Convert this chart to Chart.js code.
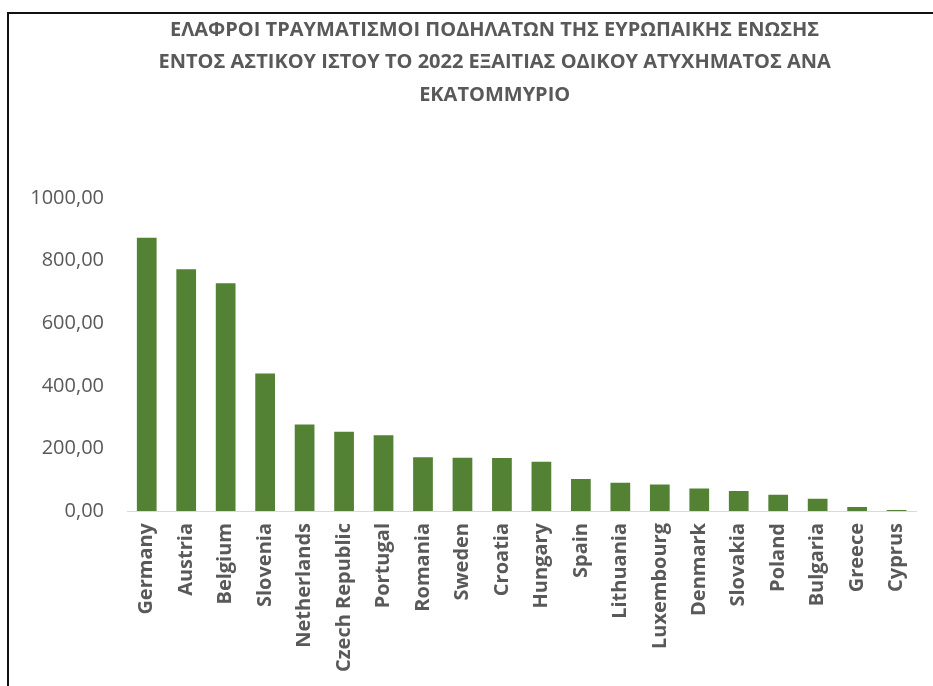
<!DOCTYPE html>
<html>
<head>
<meta charset="utf-8">
<script src="https://cdn.jsdelivr.net/npm/chart.js@4/dist/chart.umd.min.js"></script>
<style>
  html, body { margin: 0; padding: 0; background: #fff; overflow: hidden; }
  #wrap { position: relative; width: 933px; height: 686px; }
  #frame { position: absolute; left: 7px; top: 12px; width: 2000px; height: 2000px;
           border-left: 2px solid #111; border-top: 2px solid #111; pointer-events: none; }
  canvas { position: absolute; left: 0; top: 0; }
</style>
</head>
<body>
<div id="wrap">
  <canvas id="chart" width="933" height="686"></canvas>
  <div id="frame"></div>
</div>
<script>
// Countries, ordered by light cyclist injuries per million (urban roads, 2022)
const countries = [
  'Germany', 'Austria', 'Belgium', 'Slovenia', 'Netherlands', 'Czech Republic',
  'Portugal', 'Romania', 'Sweden', 'Croatia', 'Hungary', 'Spain', 'Lithuania',
  'Luxembourg', 'Denmark', 'Slovakia', 'Poland', 'Bulgaria', 'Greece', 'Cyprus'
];
const injuriesPerMillion = [
  873, 772, 728, 439, 276, 253,
  242, 172, 170, 169, 157, 102, 90,
  85, 72, 64, 52, 39, 13, 3
];
const titleLines = [
  'ΕΛΑΦΡΟΙ ΤΡΑΥΜΑΤΙΣΜΟΙ ΠΟΔΗΛΑΤΩΝ ΤΗΣ ΕΥΡΩΠΑΙΚΗΣ ΕΝΩΣΗΣ',
  'ΕΝΤΟΣ ΑΣΤΙΚΟΥ ΙΣΤΟΥ ΤΟ 2022 ΕΞΑΙΤΙΑΣ ΟΔΙΚΟΥ ΑΤΥΧΗΜΑΤΟΣ ΑΝΑ',
  'ΕΚΑΤΟΜΜΥΡΙΟ'
];
const yMin = 0, yMax = 1000, yStep = 200;

const textGrey = '#595959';
const barGreen = '#548235';

// Centre the title over the plot region rather than the whole canvas
const titleOffset = {
  id: 'titleOffset',
  afterLayout(chart) {
    if (chart.titleBlock) {
      chart.titleBlock.left = 73;
      chart.titleBlock.right = chart.chartArea.right;
    }
  }
};

new Chart(document.getElementById('chart'), {
  type: 'bar',
  data: {
    labels: countries,
    datasets: [{
      data: injuriesPerMillion,
      backgroundColor: barGreen,
      borderWidth: 0,
      barPercentage: 0.5,
      categoryPercentage: 1.0
    }]
  },
  plugins: [titleOffset],
  options: {
    responsive: false,
    animation: false,
    devicePixelRatio: 1,
    layout: { padding: { left: 0, right: 16, top: 0, bottom: 0 } },
    plugins: {
      legend: { display: false },
      tooltip: { enabled: false },
      title: {
        display: true,
        text: titleLines,
        color: textGrey,
        font: { family: 'Open Sans', size: 20, weight: 'bold', lineHeight: '32.5px' },
        padding: { top: 14, bottom: 86.5 }
      }
    },
    scales: {
      x: {
        grid: { display: false, drawTicks: false },
        border: { display: true, color: '#d9d9d9', width: 1 },
        ticks: {
          color: textGrey,
          font: { family: 'Open Sans', size: 20, weight: 'bold' },
          minRotation: 90,
          maxRotation: 90,
          autoSkip: false,
          padding: 12
        },
        afterFit(scale) { scale.height = 175; }
      },
      y: {
        min: yMin,
        max: yMax,
        grid: { display: false, drawTicks: false },
        border: { display: false },
        ticks: {
          stepSize: yStep,
          color: textGrey,
          font: { family: 'Open Sans', size: 20 },
          padding: 23,
          callback: (v) => v.toFixed(2).replace('.', ',')
        },
        afterFit(scale) { scale.width = 127; }
      }
    }
  }
});
</script>
</body>
</html>
